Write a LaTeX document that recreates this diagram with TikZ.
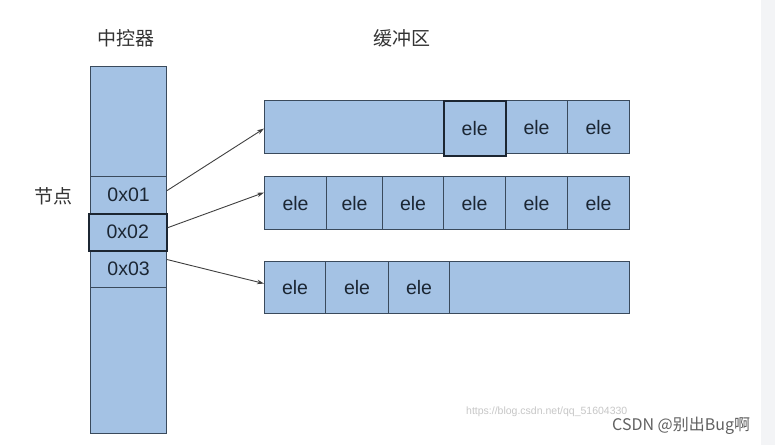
\documentclass[tikz,border=0pt]{standalone}
\usepackage{fontspec}
\setmainfont{Liberation Sans}
\newfontfamily\cjk{Noto Sans CJK SC}
\usetikzlibrary{arrows.meta}
\definecolor{cellfill}{HTML}{A4C2E4}
\definecolor{cellline}{HTML}{3A4A5C}
\definecolor{cellhi}{HTML}{1C2632}
\definecolor{txt}{HTML}{1B2633}
\definecolor{strip}{HTML}{F3F4F6}
\tikzset{
  cell/.style={draw=cellline, fill=cellfill, line width=1.1pt, inner sep=0pt,
    anchor=north west, font=\fontsize{19.5}{19.5}\selectfont, text=txt},
  hicell/.style={cell, draw=cellhi, line width=1.5pt},
  head/.style={font=\cjk\fontsize{19}{19}\selectfont, text=black!80},
  link/.style={draw=black!75, line width=0.9pt, -{Stealth[length=7pt,width=4.5pt]}},
}
\begin{document}
\begin{tikzpicture}[x=1pt,y=-1pt]
\useasboundingbox (0,0) rectangle (775,445);
\fill[white] (0,0) rectangle (775,445);
\fill[strip] (761,0) rectangle (775,445);
% headers
\node[head] (h1) at (126,38) {中控器};
\node[head] (h2) at (402,38) {缓冲区};
\node[head] (h3) at (53,196) {节点};
% controller column
\node[cell, minimum width=76pt, minimum height=110pt] (c0) at (90,66) {};
\node[cell, minimum width=76pt, minimum height=37pt] (n1) at (90,176) {0x01};
\node[cell, minimum width=76pt, minimum height=37pt] (n3) at (90,250) {0x03};
\node[cell, minimum width=76pt, minimum height=146pt] (c4) at (90,287) {};
\node[hicell, minimum width=78pt, minimum height=37pt] (n2) at (88,213) {0x02};
% row 1
\node[cell, minimum width=179pt, minimum height=53pt] (r1a) at (264,100) {};
\node[cell, minimum width=62pt, minimum height=53pt] (r1c) at (505,100) {ele};
\node[cell, minimum width=62pt, minimum height=53pt] (r1d) at (567,100) {ele};
\node[hicell, minimum width=62pt, minimum height=55pt] (r1b) at (443,100) {ele};
% row 2
\node[cell, minimum width=62pt, minimum height=53pt] (r2a) at (264,176) {ele};
\node[cell, minimum width=56pt, minimum height=53pt] (r2b) at (326,176) {ele};
\node[cell, minimum width=61pt, minimum height=53pt] (r2c) at (382,176) {ele};
\node[cell, minimum width=62pt, minimum height=53pt] (r2d) at (443,176) {ele};
\node[cell, minimum width=62pt, minimum height=53pt] (r2e) at (505,176) {ele};
\node[cell, minimum width=62pt, minimum height=53pt] (r2f) at (567,176) {ele};
% row 3
\node[cell, minimum width=61pt, minimum height=52pt] (r3a) at (264,261) {ele};
\node[cell, minimum width=63pt, minimum height=52pt] (r3b) at (325,261) {ele};
\node[cell, minimum width=61pt, minimum height=52pt] (r3c) at (388,261) {ele};
\node[cell, minimum width=180pt, minimum height=52pt] (r3d) at (449,261) {};
% links
\draw[link] ([yshift=4.5pt]n1.east) -- ([yshift=-1.5pt]r1a.west);
\draw[link] ([yshift=4.5pt]n2.east) -- ([yshift=10.5pt]r2a.west);
\draw[link] ([yshift=9.5pt]n3.east) -- ([yshift=4pt]r3a.west);
% watermark
\node[anchor=west, font=\fontsize{10.5}{10.5}\selectfont, text=black!22, inner sep=0pt] (w1) at (466,412) {https://blog.csdn.net/qq\_51604330};
\node[anchor=west, font=\cjk\fontsize{16}{16}\selectfont, text=black!62, inner sep=0pt] (w2) at (612,426) {CSDN @别出Bug啊};
\end{tikzpicture}
\end{document}
